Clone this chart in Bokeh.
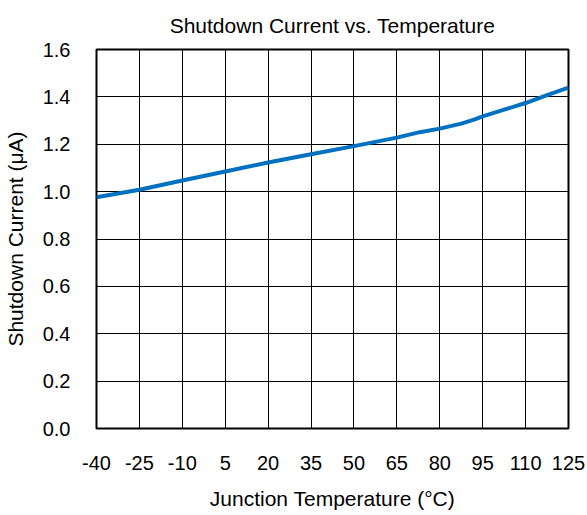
from bokeh.plotting import figure
from bokeh.models import Range1d, FixedTicker, Title, CustomJSTickFormatter
from bokeh.embed import file_html
from bokeh.resources import INLINE

temps = [-40, -25, -10, 5, 20, 35, 50, 65, 73, 80, 87.5, 92, 95, 102.5, 110, 117.5, 125]
current = [0.976, 1.008, 1.047, 1.085, 1.123, 1.158, 1.192, 1.228, 1.251, 1.266, 1.287, 1.304, 1.318, 1.346, 1.374, 1.407, 1.439]
x_ticks = [-40, -25, -10, 5, 20, 35, 50, 65, 80, 95, 110, 125]
y_ticks = [0.0, 0.2, 0.4, 0.6, 0.8, 1.0, 1.2, 1.4, 1.6]
title_text = "Shutdown Current vs. Temperature"

FONT = "Liberation Sans"

p = figure(width=587, height=515, output_backend="svg", toolbar_location=None,
           x_range=Range1d(-40, 125), y_range=Range1d(0, 1.6),
           min_border_left=94, min_border_right=19, min_border_top=49, min_border_bottom=87)

p.title = Title(text=title_text, align="center",
                text_font=FONT, text_font_size="21px", text_font_style="normal",
                text_color="black", standoff=22, vertical_align="top")

p.line(temps, current, line_color="#0070C0", line_width=4, line_join="round")

p.xaxis.ticker = FixedTicker(ticks=x_ticks)
p.yaxis.ticker = FixedTicker(ticks=y_ticks)
p.xaxis.formatter = CustomJSTickFormatter(code="return String(tick);")
p.yaxis.formatter = CustomJSTickFormatter(code="return tick.toFixed(1);")

for ax in (p.xaxis[0], p.yaxis[0]):
    ax.axis_line_color = None
    ax.major_tick_line_color = None
    ax.minor_tick_line_color = None
    ax.major_label_text_font = FONT
    ax.major_label_text_font_size = "20px"
    ax.major_label_text_color = "black"
    ax.axis_label_text_font = FONT
    ax.axis_label_text_font_size = "21px"
    ax.axis_label_text_font_style = "normal"
    ax.axis_label_text_color = "black"

p.xaxis.axis_label = "Junction Temperature (°C)"
p.yaxis.axis_label = "Shutdown Current (μA)"
p.xaxis.major_label_standoff = 21
p.yaxis.major_label_standoff = 20
p.xaxis.axis_label_standoff = 14
p.yaxis.axis_label_standoff = 13

p.xgrid.ticker = FixedTicker(ticks=x_ticks)
p.ygrid.ticker = FixedTicker(ticks=y_ticks)
p.grid.grid_line_color = "black"
p.grid.grid_line_width = 1
p.grid.grid_line_alpha = 1

p.outline_line_color = "black"
p.outline_line_width = 2
p.outline_line_alpha = 1
p.background_fill_color = "white"
p.border_fill_color = "white"

open("out.html", "w").write(file_html(p, INLINE))
